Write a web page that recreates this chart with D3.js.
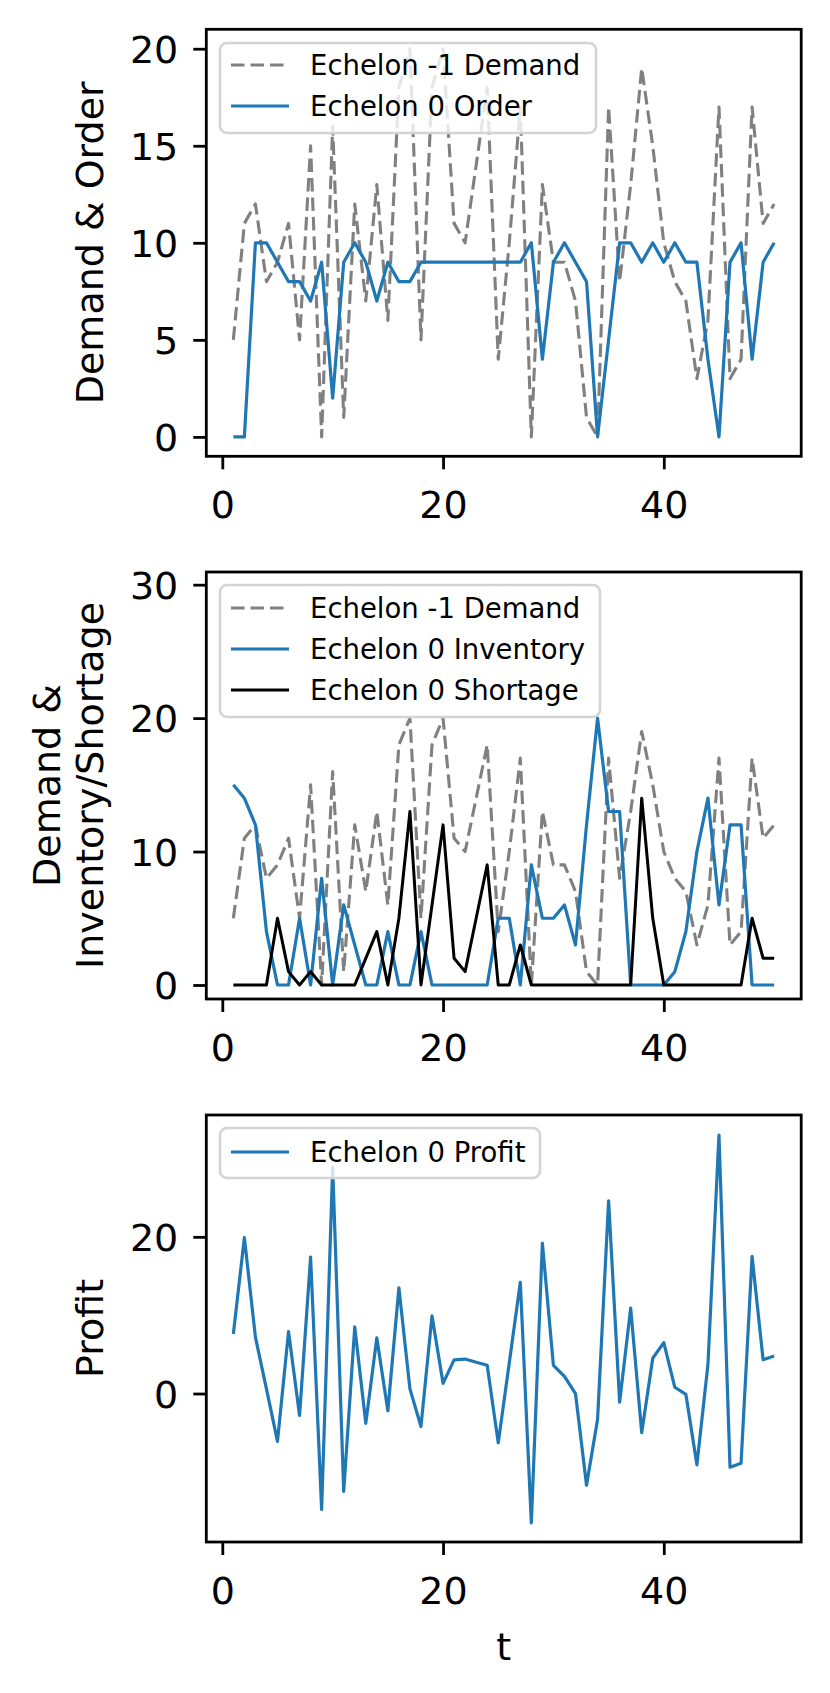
<!DOCTYPE html>
<html>
<head>
<meta charset="utf-8">
<script src="https://cdn.jsdelivr.net/npm/d3@7"></script>
<style>
  body { margin: 0; background: #fff; }
  text { font-family: "DejaVu Sans", sans-serif; fill: #000; }
</style>
</head>
<body>
<svg id="chart" width="830" height="1693"></svg>
<script>
// values, t = 1..50
const demand = [5, 11, 12, 8, 9, 11, 5, 15, 0, 16, 1, 12, 7, 13, 6, 18, 20, 5, 18, 20,
  11, 10, 14, 18, 4, 10, 17, 0, 13, 9, 9, 7, 1, 0, 17, 8, 13, 19, 15, 10,
  8, 7, 3, 6, 17, 3, 4, 17, 11, 12];
const order = [0, 0, 10, 10, 9, 8, 8, 7, 9, 2, 9, 10, 9, 7, 9, 8, 8, 9, 9, 9,
  9, 9, 9, 9, 9, 9, 9, 10, 4, 9, 10, 9, 8, 0, 5, 10, 10, 9, 10, 9,
  10, 9, 9, 4, 0, 9, 10, 4, 9, 10];
const inventory = [15, 14, 12, 4, 0, 0, 5, 0, 8, 0, 6, 3, 0, 0, 4, 0, 0, 4, 0, 0,
  0, 0, 0, 0, 5, 5, 0, 9, 5, 5, 6, 3, 12, 20, 13, 13, 0, 0, 0, 0,
  1, 4, 10, 14, 6, 12, 12, 0, 0, 0];
const shortage = [0, 0, 0, 0, 5, 1, 0, 1, 0, 0, 0, 0, 2, 4, 0, 5, 13, 0, 6, 12,
  2, 1, 5, 9, 0, 0, 3, 0, 0, 0, 0, 0, 0, 0, 0, 0, 0, 14, 5, 0,
  0, 0, 0, 0, 0, 0, 0, 5, 2, 2];
const profit = [7.6, 19.9, 7.2, 0.6, -6.1, 7.9, -2.8, 17.4, -14.8, 28.9,
  -12.5, 8.5, -3.8, 7.1, -2.2, 13.5, 0.6, -4.2, 9.9, 1.3,
  4.3, 4.4, 4.0, 3.6, -6.3, 3.9, 14.2, -16.5, 19.2, 3.6,
  2.2, 0.0, -11.7, -3.3, 24.6, -1.1, 10.9, -5.0, 4.5, 6.5,
  0.8, -0.1, -9.1, 3.7, 33.0, -9.4, -8.9, 17.5, 4.3, 4.8];

const xTicks = [0, 20, 40];
const yTicks1 = [0, 5, 10, 15, 20];
const yTicks2 = [0, 10, 20, 30];
const yTicks3 = [0, 20];

const svg = d3.select('#chart');
svg.append('rect').attr('width', 830).attr('height', 1693).attr('fill', '#fff');

const left = 206.3, right = 801.2, panelH = 427;
const fs = 38;       // tick + axis label size
const legFs = 27.5;

const x = d3.scaleLinear().domain([-1.45, 52.45]).range([left, right]);

const styles = {
  demand:   { color: 'gray', dash: '13.5,6', w: 3.1 },
  order:    { color: '#1f77b4', dash: null, w: 3.2 },
  inventory:{ color: '#1f77b4', dash: null, w: 3.2 },
  shortage: { color: 'black', dash: null, w: 3.0 },
  profit:   { color: '#1f77b4', dash: null, w: 3.2 }
};

function drawPanel(top, yDomain, yTicks, series, legend, ylabel, xlabel) {
  const bottom = top + panelH;
  const y = d3.scaleLinear().domain(yDomain).range([bottom, top]);
  const g = svg.append('g');

  // lines
  const line = d3.line().x((d, i) => x(i + 1)).y(d => y(d));
  series.forEach(s => {
    const st = styles[s.key];
    g.append('path')
      .datum(s.values)
      .attr('d', line)
      .attr('fill', 'none')
      .attr('stroke', st.color)
      .attr('stroke-width', st.w)
      .attr('stroke-linejoin', 'round')
      .attr('stroke-dasharray', st.dash);
  });

  // legend
  const lg = g.append('g');
  lg.append('rect')
    .attr('x', legend.x0).attr('y', legend.y0)
    .attr('width', legend.x1 - legend.x0).attr('height', legend.y1 - legend.y0)
    .attr('rx', 7)
    .attr('fill', 'white').attr('fill-opacity', 0.8)
    .attr('stroke', '#d4d4d4').attr('stroke-width', 2.6);
  series.forEach((s, i) => {
    const st = styles[s.key];
    const cy = legend.rows[i];
    lg.append('line')
      .attr('x1', 231).attr('x2', 289).attr('y1', cy).attr('y2', cy)
      .attr('stroke', st.color).attr('stroke-width', st.w)
      .attr('stroke-dasharray', st.dash);
    lg.append('text')
      .attr('x', 310).attr('y', cy).attr('dy', '0.36em')
      .attr('font-size', legFs)
      .text(s.label);
  });

  // frame
  g.append('rect')
    .attr('x', left).attr('y', top).attr('width', right - left).attr('height', panelH)
    .attr('fill', 'none').attr('stroke', 'black').attr('stroke-width', 2.8);

  // x axis
  const xAxis = d3.axisBottom(x).tickValues(xTicks).tickSize(13).tickPadding(20)
    .tickFormat(d3.format('d'));
  const xa = g.append('g').attr('transform', `translate(0,${bottom})`).call(xAxis);
  xa.select('.domain').remove();
  xa.selectAll('line').attr('stroke-width', 2.8);
  xa.selectAll('text').attr('font-size', fs).attr('font-family', '"DejaVu Sans", sans-serif')
    .attr('dy', '0.76em');

  // y axis
  const yAxis = d3.axisLeft(y).tickValues(yTicks).tickSize(13).tickPadding(15)
    .tickFormat(d3.format('d'));
  const ya = g.append('g').attr('transform', `translate(${left},0)`).call(yAxis);
  ya.select('.domain').remove();
  ya.selectAll('line').attr('stroke-width', 2.8);
  ya.selectAll('text').attr('font-size', fs).attr('font-family', '"DejaVu Sans", sans-serif')
    .attr('dy', '0.36em');

  // y label (one or two lines)
  const cy = (top + bottom) / 2;
  ylabel.forEach((txt, i) => {
    g.append('text')
      .attr('transform', `translate(${ylabel.length === 1 ? 103 : [60, 103][i]},${cy}) rotate(-90)`)
      .attr('text-anchor', 'middle')
      .attr('font-size', fs)
      .text(txt);
  });

  if (xlabel) {
    g.append('text')
      .attr('x', x(25.5)).attr('y', bottom + 118)
      .attr('text-anchor', 'middle')
      .attr('font-size', fs)
      .text(xlabel);
  }
}

drawPanel(29.3, [-1, 21], yTicks1,
  [{ key: 'demand', values: demand, label: 'Echelon -1 Demand' },
   { key: 'order', values: order, label: 'Echelon 0 Order' }],
  { x0: 220, x1: 596, y0: 43, y1: 133, rows: [65, 106] },
  ['Demand & Order'], null);

drawPanel(572, [-1.05, 30.95], yTicks2,
  [{ key: 'demand', values: demand, label: 'Echelon -1 Demand' },
   { key: 'inventory', values: inventory, label: 'Echelon 0 Inventory' },
   { key: 'shortage', values: shortage, label: 'Echelon 0 Shortage' }],
  { x0: 220, x1: 600, y0: 585, y1: 717, rows: [608, 649, 690] },
  ['Demand &', 'Inventory/Shortage'], null);

drawPanel(1115, [-18.95, 35.55], yTicks3,
  [{ key: 'profit', values: profit, label: 'Echelon 0 Profit' }],
  { x0: 220, x1: 540, y0: 1128, y1: 1178, rows: [1152] },
  ['Profit'], 't');
</script>
</body>
</html>
